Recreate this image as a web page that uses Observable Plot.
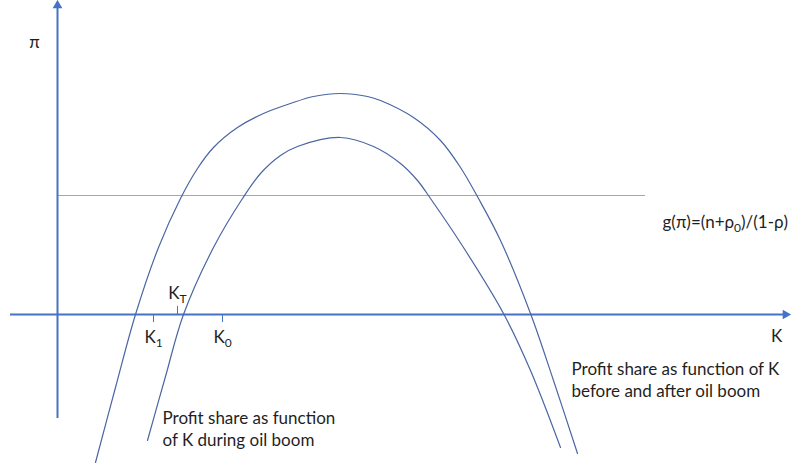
<!DOCTYPE html>
<html>
<head>
<meta charset="utf-8">
<script src="https://cdn.jsdelivr.net/npm/d3@7"></script>
<script src="https://cdn.jsdelivr.net/npm/@observablehq/plot@0.6"></script>
<style>
  html, body { margin: 0; padding: 0; background: #fff; }
  #chart svg { display: block; }
</style>
</head>
<body>
<div id="chart"></div>
<script>
// Curve: profit share as function of K before and after oil boom (outer)
const outerK  = [3.8, 5.8, 7.8, 10.1, 12.3, 14.0, 15.6, 18.0, 20.6, 23.3, 25.6, 28.3, 31.0, 32.3, 35.6, 38.3, 40.3, 42.1, 44.3, 47.3, 49.6, 52.0];
const outerPi = [-14.8, -7.3, 0, 6.7, 11.6, 14.6, 16.7, 18.7, 20.1, 21.1, 21.8, 22.1, 21.8, 21.4, 19.7, 17.4, 14.7, 11.6, 7.4, 0.1, -6.6, -13.9];
// Curve: profit share as function of K during oil boom (inner)
const innerK  = [9.0, 10.8, 12.6, 15.6, 18.5, 20.3, 22.3, 24.0, 28.3, 31.6, 34.3, 36.0, 37.3, 40.6, 44.6, 47.3, 50.3];
const innerPi = [-12.6, -6.2, 0, 6.7, 11.6, 14.1, 15.9, 16.8, 17.7, 16.8, 15.1, 13.4, 11.6, 6.7, 0.1, -5.6, -13.3];
// Horizontal line g(π)
const gLevel = 11.9;
const gExtent = [0, 58.8];
// Axes extents
const kAxisExtent = [-4.7, 72.8];
const piAxisExtent = [-10.4, 30.9];
// Tick marks on K axis
const tickNames = ["K_1", "K_T", "K_0"];
const tickK = [9.6, 12.0, 16.5];
const tickSide = [-1, 1, -1];
// Text labels
const axisLabels = ["π", "K"];
const axisLabelK = [-2.3, 71.9];
const axisLabelPi = [27.2, -2.2];
const gLabel = "g(π)=(n+ρ_0)/(1-ρ)";
const gLabelK = [60.5];
const gLabelPi = [9.2];
const noteLines = ["Profit share as function", "of K during oil boom", "Profit share as function of K", "before and after oil boom"];
const noteK = [10.5, 10.5, 51.4, 51.4];
const notePi = [-10.4, -12.6, -5.5, -7.7];

const outer = outerK.map((k, i) => ({K: k, pi: outerPi[i]}));
const inner = innerK.map((k, i) => ({K: k, pi: innerPi[i]}));
const ticks = tickNames.map((n, i) => ({name: n, K: tickK[i], side: tickSide[i]}));
const axisText = axisLabels.map((t, i) => ({t, K: axisLabelK[i], pi: axisLabelPi[i]}));
const notes = noteLines.map((t, i) => ({t, K: noteK[i], pi: notePi[i]}));

const axisColor = "#4472C4";
const curveColor = "#4A65A3";
const gColor = "#8EA9DB";
const textColor = "#1f1f1f";
const font = "Lato, 'Open Sans', sans-serif";
const fs = 17;

const plot = Plot.plot({
  width: 794,
  height: 466,
  margin: 0,
  style: {fontFamily: font, background: "#fff"},
  x: {domain: [-5.7, 73.7], axis: null},
  y: {domain: [-15.2, 31.4], axis: null},
  marks: [
    Plot.ruleY([gLevel], {x1: gExtent[0], x2: gExtent[1], stroke: gColor, strokeWidth: 1}),
    Plot.ruleY([0], {x1: kAxisExtent[0], x2: kAxisExtent[1], stroke: axisColor, strokeWidth: 2}),
    Plot.ruleX([0], {y1: piAxisExtent[0], y2: piAxisExtent[1], stroke: axisColor, strokeWidth: 2}),
    Plot.dot([{K: kAxisExtent[1], pi: 0}], {x: "K", y: "pi", symbol: "triangle", r: 3.6, fill: axisColor, stroke: null, rotate: 90}),
    Plot.dot([{K: 0, pi: piAxisExtent[1]}], {x: "K", y: "pi", symbol: "triangle", r: 3.6, fill: axisColor, stroke: null}),
    Plot.ruleX(ticks, {x: "K", y1: 0, y2: d => d.side * 0.8, stroke: axisColor, strokeWidth: 1}),
    Plot.line(outer, {x: "K", y: "pi", curve: "catmull-rom", stroke: curveColor, strokeWidth: 1.2}),
    Plot.line(inner, {x: "K", y: "pi", curve: "catmull-rom", stroke: curveColor, strokeWidth: 1.2}),
    Plot.text(ticks, {x: "K", y: d => d.side < 0 ? -2.3 : 2.1, text: "name", textAnchor: "middle", fontSize: fs, fill: textColor}),
    Plot.text(axisText, {x: "K", y: "pi", text: "t", fontSize: fs, fill: textColor}),
    Plot.text([gLabel], {x: gLabelK, y: gLabelPi, text: d => d, textAnchor: "start", fontSize: fs, fill: textColor}),
    Plot.text(notes, {x: "K", y: "pi", text: "t", textAnchor: "start", fontSize: fs, fill: textColor})
  ]
});

// Render "_x" as a subscript
d3.select(plot).selectAll("text").each(function() {
  const t = this.textContent;
  if (!t.includes("_")) return;
  const m = t.match(/^(.*)_(.)(.*)$/);
  const sel = d3.select(this);
  sel.text(null);
  sel.append("tspan").text(m[1]);
  sel.append("tspan").attr("dy", "4").attr("font-size", 12).text(m[2]);
  if (m[3]) sel.append("tspan").attr("dy", "-4").text(m[3]);
});

document.getElementById("chart").appendChild(plot);
</script>
</body>
</html>
